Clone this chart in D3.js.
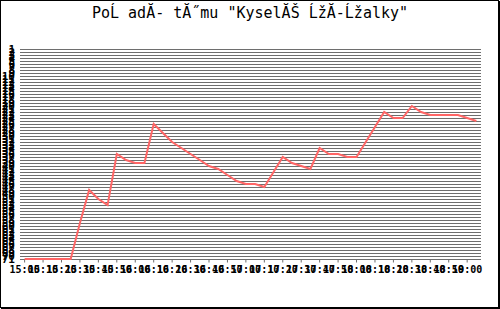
<!DOCTYPE html>
<html lang="cs">
<head>
<meta charset="UTF-8">
<title>Pořadí týmu</title>
<script src="https://d3js.org/d3.v7.min.js"></script>
<style>
  html, body { margin: 0; padding: 0; background: #fff; }
  text { font-family: "DejaVu Sans Mono", monospace; }
</style>
</head>
<body>
<div id="chart"></div>
<script>
// title text exactly as rendered in the reference (UTF-8 read as ISO-8859-2)
const title = 'PoĹ adĂ- tĂ˝mu "KyselĂŠ ĹžĂ-Ĺžalky"';

// sample times (x categories), one every 5 minutes
const times = [
  "15:00", "15:05", "15:10", "15:15", "15:20", "15:25", "15:30", "15:35", "15:40", "15:45",
  "15:50", "15:55", "16:00", "16:05", "16:10", "16:15", "16:20", "16:25", "16:30", "16:35",
  "16:40", "16:45", "16:50", "16:55", "17:00", "17:05", "17:10", "17:15", "17:20", "17:25",
  "17:30", "17:35", "17:40", "17:45", "17:50", "17:55", "18:00", "18:05", "18:10", "18:15",
  "18:20", "18:25", "18:30", "18:35", "18:40", "18:45", "18:50", "18:55", "19:00", "19:05"
];

// labelled times on the x axis (every 10 minutes)
const timeLabels = [
  "15:00", "15:10", "15:20", "15:30", "15:40", "15:50", "16:00", "16:10", "16:20", "16:30",
  "16:40", "16:50", "17:00", "17:10", "17:20", "17:30", "17:40", "17:50", "18:00", "18:10",
  "18:20", "18:30", "18:40", "18:50", "19:00"
];

// rank of the team at each time (71 = bottom of the chart)
const ranks = [
  71, 71, 71, 71, 71, 71, 59, 48, 51, 53,
  36, 38, 39, 39, 26, 29, 32, 34, 36, 38,
  40, 41, 43, 45, 46, 46, 47, 42, 37, 39,
  40, 41, 34, 36, 36, 37, 37, 32, 27, 22,
  24, 24, 20, 22, 23, 23, 23, 23, 24, 25
];

const yTicks = d3.range(1, 72);

const W = 500, H = 309;
const plot = { left: 20, right: 481, top: 49, bottom: 259 };

const svg = d3.select("#chart").append("svg")
  .attr("width", W).attr("height", H);

svg.append("rect").attr("width", W).attr("height", H).attr("fill", "#fff");

// frame with a small shadow on right/bottom
svg.append("rect")
  .attr("x", 0.5).attr("y", 0.5).attr("width", W - 2).attr("height", H - 2)
  .attr("fill", "none").attr("stroke", "#000");
svg.append("line").attr("x1", W - 0.5).attr("x2", W - 0.5).attr("y1", 1).attr("y2", H)
  .attr("stroke", "#000");
svg.append("line").attr("x1", 1).attr("x2", W).attr("y1", H - 0.5).attr("y2", H - 0.5)
  .attr("stroke", "#000");

svg.append("text")
  .attr("x", W / 2).attr("y", 18)
  .attr("text-anchor", "middle")
  .attr("font-size", 15)
  .text(title);

const x = d3.scaleBand().domain(times).range([plot.left, plot.right]);
const y = d3.scaleLinear().domain([71, 1]).range([plot.bottom, plot.top]);

// horizontal grid
svg.append("g")
  .selectAll("line")
  .data(yTicks)
  .enter()
  .append("line")
  .attr("x1", plot.left).attr("x2", plot.right)
  .attr("y1", d => Math.round(y(d)) + 0.5).attr("y2", d => Math.round(y(d)) + 0.5)
  .attr("stroke", "#6e6e6e");

// y axis labels (overlapping, as in the original)
const yAxis = d3.axisLeft(y).tickValues(yTicks).tickSize(0).tickPadding(5);
const gy = svg.append("g").attr("transform", `translate(${plot.left},0)`).call(yAxis);
gy.select(".domain").remove();
gy.selectAll("text")
  .attr("font-size", 11).attr("font-weight", "bold")
  .attr("font-family", "DejaVu Sans Mono").attr("fill", "#000");

// x axis
const xAxis = d3.axisBottom(x).tickValues(timeLabels).tickSize(3).tickPadding(3);
const gx = svg.append("g").attr("transform", `translate(0,${plot.bottom + 0.5})`).call(xAxis);
gx.select(".domain").attr("stroke", "#6e6e6e").attr("d", `M${plot.left},0H${plot.right}`);
gx.selectAll(".tick line").attr("stroke", "#6e6e6e");
gx.selectAll("text")
  .attr("font-size", 10).attr("font-weight", "bold")
  .attr("font-family", "DejaVu Sans Mono").attr("fill", "#000");

// rank line
const line = d3.line()
  .x((d, i) => x(times[i]) + x.bandwidth() / 2)
  .y(d => y(d));

svg.append("path")
  .datum(ranks)
  .attr("fill", "none")
  .attr("stroke", "#ff6666")
  .attr("stroke-width", 2)
  .attr("d", line);
</script>
</body>
</html>
